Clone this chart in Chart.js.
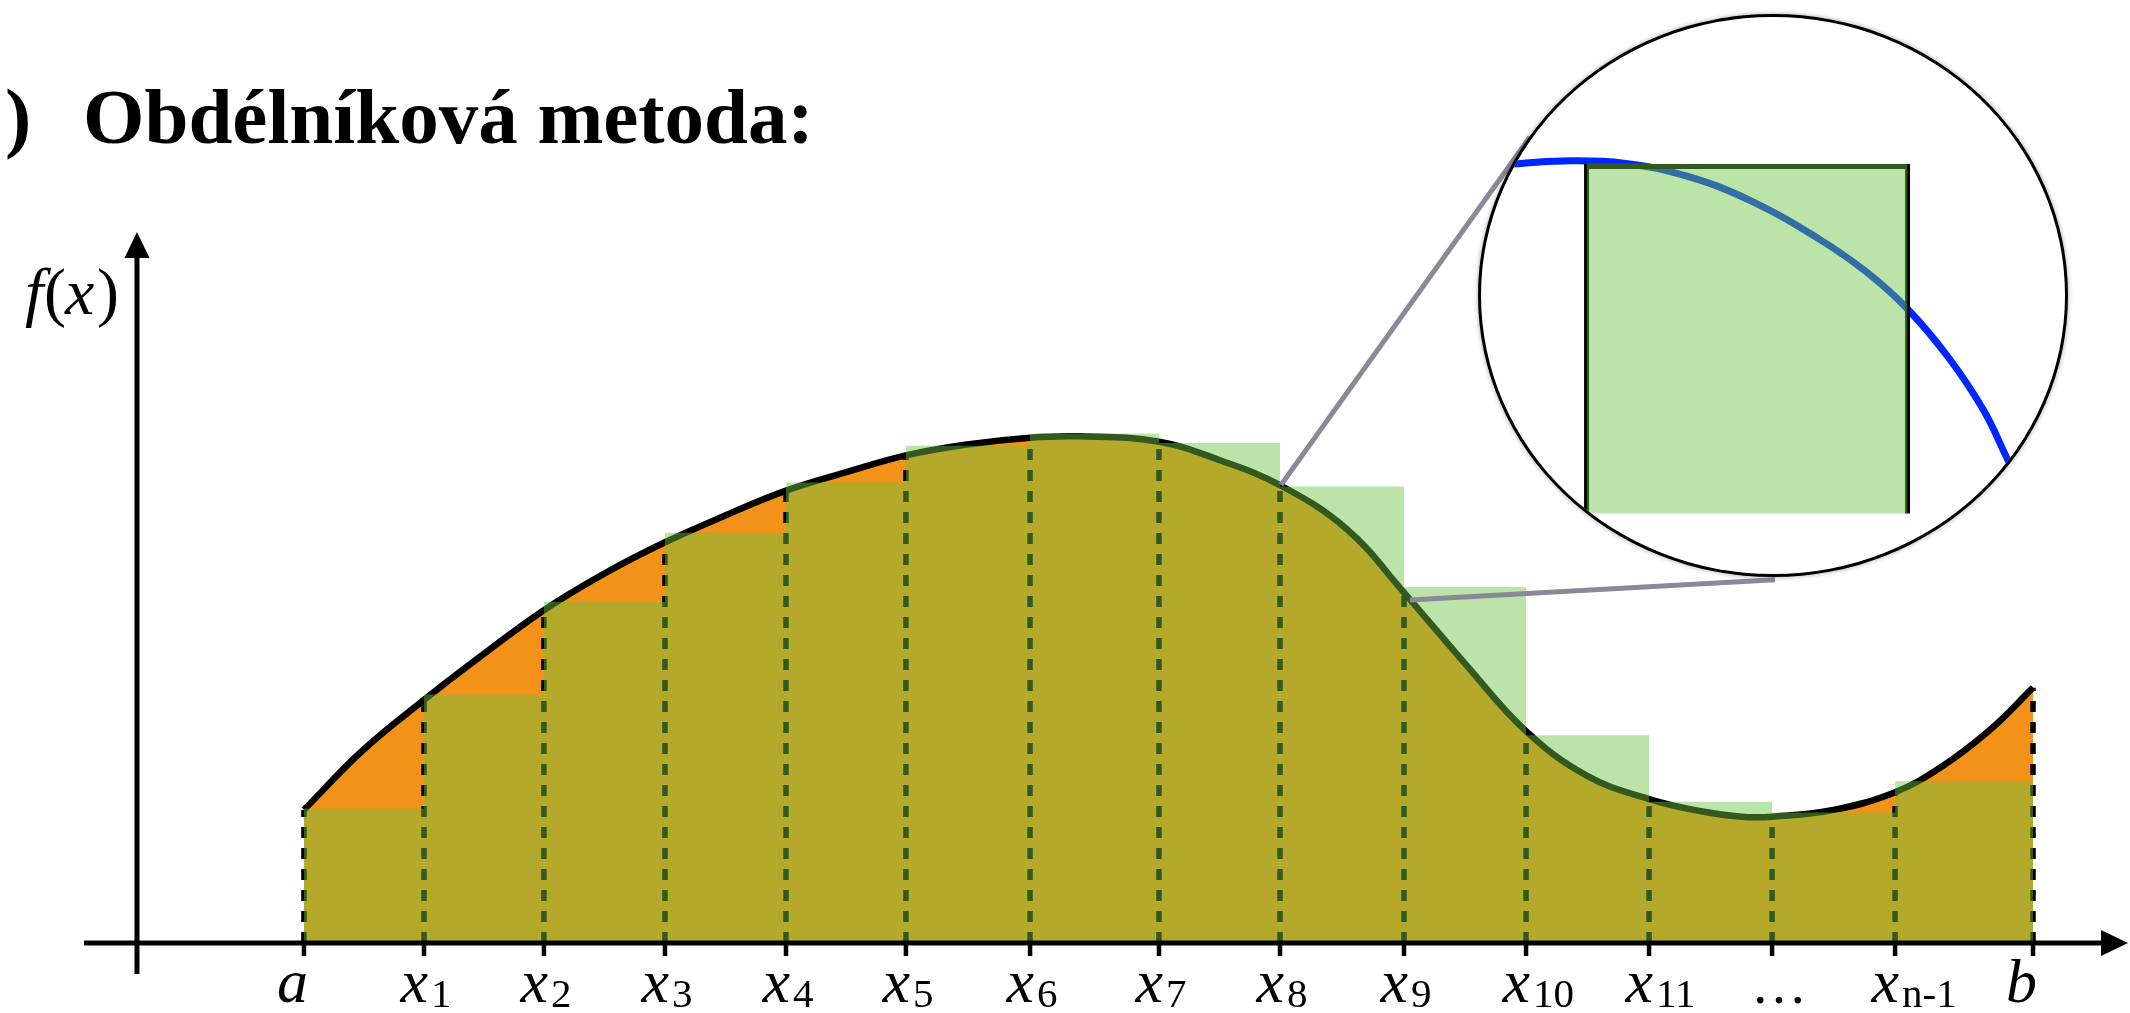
<!DOCTYPE html>
<html>
<head>
<meta charset="utf-8">
<script src="https://cdn.jsdelivr.net/npm/chart.js@4.4.1/dist/chart.umd.min.js"></script>
<style>
  html, body { margin: 0; padding: 0; background: #fff; }
  #wrap { position: relative; width: 2130px; height: 1013px; overflow: hidden; }
  #main { position: absolute; left: 0; top: 0; }
  #lens {
    position: absolute; left: 1478px; top: 14px; width: 590px; height: 563px;
    box-sizing: border-box; border: 3px solid #000; border-radius: 50%;
    overflow: hidden; background: #fff; box-shadow: 0 0 5px rgba(0, 0, 0, 0.35);
  }
  #zoom { position: absolute; left: -3px; top: -3px; }
</style>
</head>
<body>
<div id="wrap">
  <canvas id="main" width="2130" height="1013"></canvas>
  <div id="lens"><canvas id="zoom" width="590" height="563"></canvas></div>
</div>
<script>
const TITLE_PAREN = ")";
const TITLE = "Obdélníková metoda:";

// division nodes a, x1 ... x11, ..., xn-1, b
const nodeX = [0, 0.972, 1.943, 2.923, 3.903, 4.874, 5.879, 6.923, 7.903, 8.907, 9.895, 10.891, 11.887, 12.883, 14];
const nodeY = [0.98, 1.79, 2.45, 2.95, 3.33, 3.59, 3.72, 3.69, 3.37, 2.58, 1.56, 1.06, 0.93, 1.11, 1.88];
const tickMain = ["a", "x", "x", "x", "x", "x", "x", "x", "x", "x", "x", "x", "…", "x", "b"];
const tickSub = ["", "1", "2", "3", "4", "5", "6", "7", "8", "9", "10", "11", "", "n-1", ""];

// extra samples of f(x) between the nodes
const midX = [0.466, 1.37, 2.453, 3.393, 4.405, 5.368, 6.272, 7.428, 8.44, 9.417, 10.39, 11.311, 11.636, 12.385, 13.263, 13.652];
const midY = [1.41, 2.07, 2.73, 3.14, 3.47, 3.67, 3.73, 3.55, 3.05, 2.04, 1.23, 0.97, 0.93, 0.98, 1.3, 1.57];

// rectangle heights (left end of each subinterval)
const rectY = [0.99, 1.83, 2.51, 3.02, 3.39, 3.66, 3.75, 3.68, 3.36, 2.62, 1.53, 1.04, 0.96, 1.19];

// grey lines joining the curve to the magnifier
const linkUpperX = [7.911, 9.927];
const linkUpperY = [3.372, 5.933];
const linkLowerX = [8.955, 11.911];
const linkLowerY = [2.525, 2.675];

// magnifier contents (own units 0..10)
const lensCurveX = [0.2, 0.55, 1.44, 2.47, 3.57, 4.67, 5.77, 6.58, 7.28, 7.98, 8.57, 8.97, 9.3];
const lensCurveY = [7.29, 7.33, 7.39, 7.35, 7.11, 6.66, 6.01, 5.42, 4.76, 3.89, 2.96, 2.1, 1.4];
const lensRectX = [1.84, 7.28];
const lensRectY = [1.13, 7.34];

const Y_AXIS_AT = -1.352;
const SERIF = "'Liberation Serif', 'Times New Roman', serif";
const ORANGE = "#F29218";
const GREEN = "rgba(110, 196, 66, 0.46)";

function curvePoints() {
  const pts = nodeX.map((x, i) => ({ x, y: nodeY[i] }));
  midX.forEach((x, i) => pts.push({ x, y: midY[i] }));
  return pts.sort((p, q) => p.x - q.x);
}

function stepPoints() {
  const pts = rectY.map((y, i) => ({ x: nodeX[i], y }));
  pts.push({ x: nodeX[nodeX.length - 1], y: rectY[rectY.length - 1] });
  return pts;
}

function dashedPoints() {
  const pts = [];
  nodeX.forEach((x, i) => {
    pts.push({ x, y: 0 }, { x, y: nodeY[i] }, { x, y: null });
  });
  return pts;
}

function pairPoints(xs, ys) {
  return xs.map((x, i) => ({ x, y: ys[i] }));
}

const axisDecor = {
  id: "axisDecor",
  afterDatasetsDraw(chart) {
    const ctx = chart.ctx;
    const xs = chart.scales.x;
    const ys = chart.scales.y;
    const area = chart.chartArea;
    const y0 = ys.getPixelForValue(0);
    const ax = xs.getPixelForValue(Y_AXIS_AT);

    ctx.save();
    ctx.strokeStyle = "#000";
    ctx.fillStyle = "#000";
    ctx.lineWidth = 5;

    ctx.beginPath();
    ctx.moveTo(area.left, y0);
    ctx.lineTo(area.right - 22, y0);
    ctx.stroke();
    ctx.beginPath();
    ctx.moveTo(area.right, y0);
    ctx.lineTo(area.right - 27, y0 - 13);
    ctx.lineTo(area.right - 27, y0 + 13);
    ctx.closePath();
    ctx.fill();

    ctx.beginPath();
    ctx.moveTo(ax, area.bottom);
    ctx.lineTo(ax, area.top + 22);
    ctx.stroke();
    ctx.beginPath();
    ctx.moveTo(ax, area.top);
    ctx.lineTo(ax - 12.5, area.top + 26);
    ctx.lineTo(ax + 12.5, area.top + 26);
    ctx.closePath();
    ctx.fill();

    ctx.lineWidth = 4.5;
    nodeX.forEach((v) => {
      const px = xs.getPixelForValue(v);
      ctx.beginPath();
      ctx.moveTo(px, y0);
      ctx.lineTo(px, y0 + 13);
      ctx.stroke();
    });

    ctx.textBaseline = "alphabetic";
    nodeX.forEach((v, i) => {
      const px = xs.getPixelForValue(v);
      if (tickMain[i] === "…") {
        ctx.font = `56px ${SERIF}`;
        ctx.textAlign = "center";
        ctx.fillText(tickMain[i], px + 7, y0 + 60);
        return;
      }
      ctx.font = `italic 62px ${SERIF}`;
      ctx.textAlign = "right";
      ctx.fillText(tickMain[i], px + 4, y0 + 59);
      if (tickSub[i]) {
        ctx.font = `41px ${SERIF}`;
        ctx.textAlign = "left";
        ctx.fillText(tickSub[i], px + 7, y0 + 64);
      }
    });

    // f(x)
    ctx.textAlign = "left";
    ctx.font = `italic 66px ${SERIF}`;
    ctx.fillText("f", 25, 314);
    ctx.fillText("x", 65, 314);
    ctx.font = `66px ${SERIF}`;
    ctx.fillText("(", 44, 314);
    ctx.fillText(")", 97, 314);

    ctx.font = `bold 79px ${SERIF}`;
    ctx.fillText(TITLE_PAREN, 5, 143);
    ctx.fillText(TITLE, 83, 143);
    ctx.restore();
  },
};

new Chart(document.getElementById("main"), {
  type: "line",
  data: {
    datasets: [
      {
        label: "links",
        data: pairPoints(linkUpperX, linkUpperY).concat([{ x: linkUpperX[1], y: null }], pairPoints(linkLowerX, linkLowerY)),
        borderColor: "#8A899A",
        borderWidth: 5,
        pointRadius: 0,
        clip: false,
      },
      {
        label: "rectangles",
        data: stepPoints(),
        stepped: true,
        fill: "origin",
        backgroundColor: GREEN,
        borderWidth: 0,
        pointRadius: 0,
      },
      {
        label: "nodes",
        data: dashedPoints(),
        borderColor: "#000",
        borderWidth: 5.5,
        borderDash: [11, 10],
        pointRadius: 0,
      },
      {
        label: "f(x)",
        data: curvePoints(),
        tension: 0.4,
        fill: "origin",
        backgroundColor: ORANGE,
        borderColor: "#000",
        borderWidth: 6.5,
        pointRadius: 0,
      },
    ],
  },
  options: {
    responsive: false,
    devicePixelRatio: 1,
    animation: false,
    layout: { padding: { left: 84, right: 2, top: 232, bottom: 39 } },
    scales: {
      x: { type: "linear", min: -1.781, max: 14.769, display: false },
      y: { type: "linear", min: -0.228, max: 5.234, display: false },
    },
    plugins: { legend: { display: false }, tooltip: { enabled: false } },
  },
  plugins: [axisDecor],
});

new Chart(document.getElementById("zoom"), {
  type: "line",
  data: {
    datasets: [
      {
        label: "rectangle",
        data: pairPoints(lensRectX, [lensRectY[1], lensRectY[1]]),
        fill: { value: lensRectY[0] },
        backgroundColor: GREEN,
        borderWidth: 0,
        pointRadius: 0,
      },
      {
        label: "outline",
        data: [
          { x: lensRectX[0], y: lensRectY[0] },
          { x: lensRectX[0], y: lensRectY[1] - 0.05 },
          { x: lensRectX[1], y: lensRectY[1] - 0.05 },
          { x: lensRectX[1], y: lensRectY[0] },
        ],
        borderColor: "#000",
        borderWidth: 5,
        pointRadius: 0,
      },
      {
        label: "f(x)",
        data: pairPoints(lensCurveX, lensCurveY),
        tension: 0.4,
        borderColor: "#0026FF",
        borderWidth: 7,
        pointRadius: 0,
      },
    ],
  },
  options: {
    responsive: false,
    devicePixelRatio: 1,
    animation: false,
    layout: { padding: 0 },
    scales: {
      x: { type: "linear", min: 0, max: 10, display: false },
      y: { type: "linear", min: 0, max: 10, display: false },
    },
    plugins: { legend: { display: false }, tooltip: { enabled: false } },
  },
});
</script>
</body>
</html>
